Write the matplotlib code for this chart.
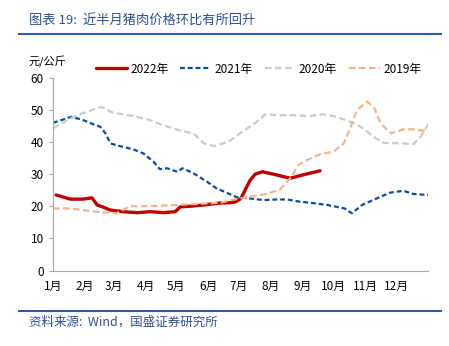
import matplotlib.pyplot as plt
import numpy as np

plt.rcParams['font.family'] = ['Noto Sans CJK SC', 'DejaVu Sans']

# x positions in pixels of the reference were turned into day of year
months = ['1月', '2月', '3月', '4月', '5月', '6月', '7月', '8月', '9月', '10月', '11月', '12月']
month_start = [0, 31, 59, 90, 120, 151, 181, 212, 243, 273, 304, 334]

d2022 = [3, 17, 29, 38, 43, 49, 56, 68, 82, 95, 107, 119, 124, 134, 147, 163, 173, 178, 183, 187, 192, 197, 204, 214, 227, 231, 237, 243, 252, 260]
v2022 = [23.5, 22.2, 22.2, 22.6, 20.4, 19.7, 18.8, 18.3, 18.0, 18.3, 18.0, 18.3, 19.8, 20.0, 20.4, 21.0, 21.1, 21.4, 22.4, 25.0, 28.1, 30.0, 30.7, 30.0, 29.0, 28.7, 29.2, 29.7, 30.4, 31.0]

d2021 = [0, 18, 29, 39, 46, 51, 56, 65, 78, 88, 98, 104, 111, 121, 126, 136, 150, 159, 169, 179, 192, 205, 218, 228, 240, 250, 267, 284, 291, 301, 315, 328, 341, 351, 365]
v2021 = [45.9, 47.8, 46.8, 45.5, 44.7, 42.7, 39.5, 38.7, 37.7, 36.4, 33.8, 31.5, 31.8, 30.7, 31.8, 30.4, 27.6, 25.6, 24.2, 22.8, 22.4, 21.9, 22.1, 22.1, 21.4, 21.1, 20.4, 19.3, 17.8, 20.4, 22.4, 24.2, 24.8, 23.8, 23.5]

d2020 = [0, 17, 29, 47, 58, 78, 94, 107, 124, 137, 147, 157, 171, 184, 197, 207, 218, 234, 250, 263, 276, 293, 302, 312, 322, 339, 351, 358, 366]
v2020 = [44.2, 47.3, 48.9, 50.9, 49.1, 48.0, 46.8, 45.2, 43.5, 42.6, 39.5, 38.7, 40.0, 43.1, 45.9, 48.6, 48.3, 48.3, 48.0, 48.6, 47.8, 45.8, 44.2, 41.6, 39.7, 39.5, 39.3, 41.6, 45.8]

d2019 = [0, 17, 29, 42, 62, 75, 94, 120, 140, 163, 176, 192, 208, 221, 231, 239, 244, 254, 263, 273, 283, 290, 296, 306, 313, 319, 329, 341, 354, 365]
v2019 = [19.3, 19.3, 18.8, 18.3, 17.8, 20.0, 20.0, 20.4, 20.7, 21.1, 22.1, 22.9, 23.8, 25.2, 28.7, 32.8, 33.8, 35.4, 36.4, 36.9, 39.5, 44.7, 49.9, 52.5, 50.4, 45.8, 42.6, 43.9, 43.9, 43.1]

title_color = '#2F4F94'

fig = plt.figure(figsize=(4.49, 3.46), dpi=100)
ax = fig.add_axes([0.118, 0.218, 0.835, 0.558])

ax.plot(d2022, v2022, color='#C00000', lw=2.4, label='2022年', solid_capstyle='round')
ax.plot(d2021, v2021, color='#0D4DA1', lw=1.6, ls=(0, (2.2, 1.3)), label='2021年')
ax.plot(d2020, v2020, color='#CBCBCB', lw=1.6, ls=(0, (3, 1.5)), label='2020年')
ax.plot(d2019, v2019, color='#F5B48B', lw=1.6, ls=(0, (3, 1.5)), label='2019年')

ax.set_xlim(0, 365)
ax.set_ylim(0, 60)
ax.set_yticks(range(0, 61, 10))
ax.set_xticks(month_start)
ax.set_xticklabels(months)
ax.tick_params(axis='both', labelsize=8.5, colors='black', length=3, color='#A6A6A6')
ax.tick_params(axis='x', length=0, pad=7)
for s in ['top', 'right']:
    ax.spines[s].set_visible(False)
for s in ['left', 'bottom']:
    ax.spines[s].set_color('#A6A6A6')

ax.legend(loc='lower left', bbox_to_anchor=(0.115, 1.01), ncol=4, frameon=False,
          fontsize=8.5, handlelength=2.6, handletextpad=0.3, columnspacing=1.0,
          borderaxespad=0, borderpad=0)
fig.text(0.063, 0.82, '元/公斤', fontsize=8, va='center')

fig.text(0.065, 0.94, '图表 19:  近半月猪肉价格环比有所回升', fontsize=9.5, color=title_color,
         style='italic', va='center')
fig.add_artist(plt.Line2D([0.042, 0.983], [0.902, 0.902], color='#2E5BA8', lw=1.5))
fig.add_artist(plt.Line2D([0.042, 0.983], [0.101, 0.101], color='#2E5BA8', lw=1.5))
fig.text(0.065, 0.07, '资料来源:  Wind，国盛证券研究所', fontsize=9, color=title_color,
         style='italic', va='center')

fig.savefig('out.png', dpi=100)
